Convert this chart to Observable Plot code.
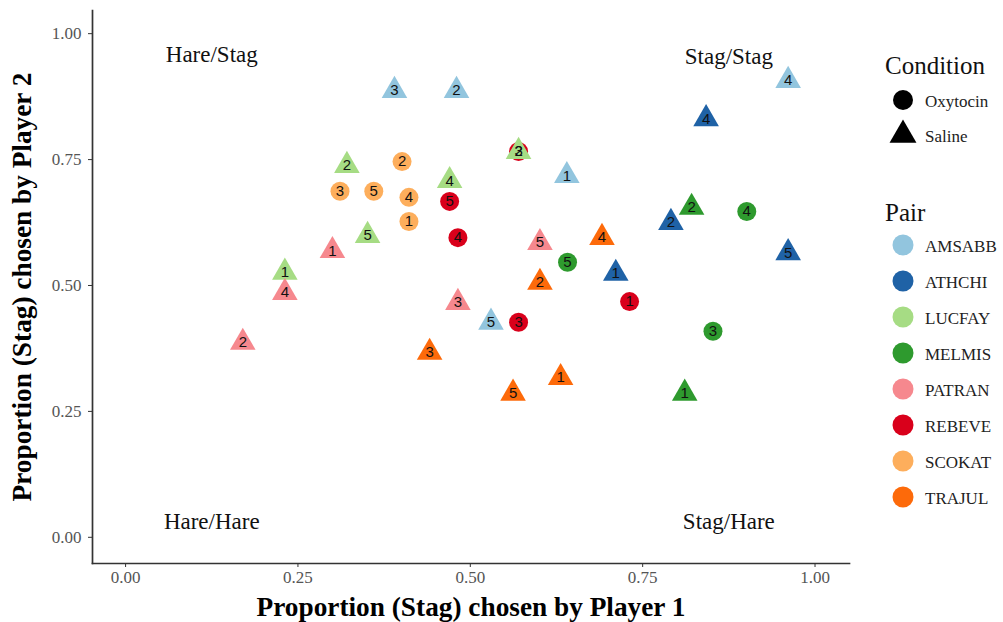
<!DOCTYPE html>
<html>
<head>
<meta charset="utf-8">
<script src="https://cdn.jsdelivr.net/npm/d3@7"></script>
<script src="https://cdn.jsdelivr.net/npm/@observablehq/plot@0.6"></script>
<style>
  body { margin: 0; background: #fff; }
  #wrap { position: relative; width: 1003px; height: 622px; }
  #legend { position: absolute; left: 0; top: 0; }
</style>
</head>
<body>
<div id="wrap"></div>
<script>
// ---- data ----
const pairNames = ["AMSABB", "ATHCHI", "LUCFAY", "MELMIS", "PATRAN", "REBEVE", "SCOKAT", "TRAJUL"];
const pairColors = ["#92c5de", "#1f62a6", "#a6dc84", "#2e9a2e", "#f6888e", "#d9001b", "#fdae5c", "#fd6a0a"];
const conditions = ["Oxytocin", "Saline"];
const conditionSymbols = ["circle", "triangle"];

const pointPair = [
  "AMSABB","AMSABB","AMSABB","AMSABB","AMSABB",
  "ATHCHI","ATHCHI","ATHCHI","ATHCHI",
  "LUCFAY","LUCFAY","LUCFAY","LUCFAY","LUCFAY",
  "MELMIS","MELMIS","MELMIS","MELMIS","MELMIS",
  "PATRAN","PATRAN","PATRAN","PATRAN","PATRAN",
  "REBEVE","REBEVE","REBEVE","REBEVE","REBEVE",
  "SCOKAT","SCOKAT","SCOKAT","SCOKAT","SCOKAT",
  "TRAJUL","TRAJUL","TRAJUL","TRAJUL","TRAJUL"
];
const pointSession = [
  1,2,3,4,5,
  1,2,4,5,
  1,2,3,4,5,
  1,2,3,4,5,
  1,2,3,4,5,
  1,2,3,4,5,
  1,2,3,4,5,
  1,2,3,4,5
];
const pointCondition = [
  "Saline","Saline","Saline","Saline","Saline",
  "Saline","Saline","Saline","Saline",
  "Saline","Saline","Saline","Saline","Saline",
  "Saline","Saline","Oxytocin","Oxytocin","Oxytocin",
  "Saline","Saline","Saline","Saline","Saline",
  "Oxytocin","Oxytocin","Oxytocin","Oxytocin","Oxytocin",
  "Oxytocin","Oxytocin","Oxytocin","Oxytocin","Oxytocin",
  "Saline","Saline","Saline","Saline","Saline"
];
const player1 = [
  0.640,0.480,0.390,0.961,0.530,
  0.711,0.791,0.842,0.961,
  0.231,0.321,0.570,0.470,0.351,
  0.811,0.821,0.852,0.901,0.641,
  0.300,0.170,0.482,0.231,0.601,
  0.731,0.570,0.570,0.482,0.470,
  0.411,0.401,0.311,0.411,0.360,
  0.631,0.601,0.441,0.691,0.562
];
const player2 = [
  0.718,0.887,0.887,0.907,0.427,
  0.524,0.625,0.831,0.565,
  0.526,0.738,0.766,0.708,0.599,
  0.286,0.655,0.409,0.647,0.546,
  0.569,0.387,0.466,0.486,0.585,
  0.468,0.766,0.427,0.595,0.667,
  0.627,0.746,0.687,0.675,0.687,
  0.317,0.506,0.367,0.595,0.286
];

const xTicks = [0, 0.25, 0.5, 0.75, 1];
const yTicks = [0, 0.25, 0.5, 0.75, 1];

const quadLabel = ["Hare/Stag", "Stag/Stag", "Hare/Hare", "Stag/Hare"];
const quadX = [0.125, 0.875, 0.125, 0.875];
const quadY = [0.958, 0.955, 0.032, 0.032];

const xTitle = "Proportion (Stag) chosen by Player 1";
const yTitle = "Proportion (Stag) chosen by Player 2";

// ---- build rows (oxytocin drawn first, saline on top) ----
const rows = pointPair.map((p, i) => ({
  pair: p, session: pointSession[i], condition: pointCondition[i],
  x: player1[i], y: player2[i]
}));
rows.sort((a, b) => conditions.indexOf(a.condition) - conditions.indexOf(b.condition));
const quads = quadLabel.map((t, i) => ({text: t, x: quadX[i], y: quadY[i]}));

const serif = "'Liberation Serif', 'Times New Roman', serif";
const sans = "'Liberation Sans', Arial, sans-serif";

const plot = Plot.plot({
  width: 1003,
  height: 622,
  marginLeft: 92,
  marginRight: 154,
  marginTop: 10,
  marginBottom: 59,
  style: {fontFamily: serif, background: "#fff"},
  x: {domain: [-0.048, 1.05]},
  y: {domain: [-0.052, 1.046]},
  color: {domain: pairNames, range: pairColors},
  symbol: {domain: conditions, range: conditionSymbols},
  marks: [
    Plot.frame({anchor: "left", stroke: "#333", strokeWidth: 1.7}),
    Plot.frame({anchor: "bottom", stroke: "#333", strokeWidth: 1.7}),
    Plot.axisX({ticks: xTicks, tickFormat: d3.format(".2f"), tickSize: 4, tickPadding: 3,
      fontSize: 17, fill: "#555", stroke: "#333", label: null}),
    Plot.axisY({ticks: yTicks, tickFormat: d3.format(".2f"), tickSize: 4, tickPadding: 7,
      fontSize: 17, fill: "#555", stroke: "#333", label: null}),
    Plot.text(quads, {x: "x", y: "y", text: "text", fontSize: 23, fill: "#111"}),
    Plot.dot(rows, {x: "x", y: "y", fill: "pair", symbol: "condition", r: 9.5, stroke: "none"}),
    Plot.text(rows, {x: "x", y: "y", text: "session", fontSize: 15, fontFamily: sans, fill: "#111"}),
    Plot.text([xTitle], {frameAnchor: "bottom", dy: 44, lineAnchor: "middle", textAnchor: "middle",
      fontSize: 27.3, fontWeight: "bold", fill: "#000"}),
    Plot.text([yTitle], {frameAnchor: "left", dx: -70, rotate: -90, lineAnchor: "middle", textAnchor: "middle",
      fontSize: 27.3, fontWeight: "bold", fill: "#000"})
  ]
});

const wrap = document.getElementById("wrap");
wrap.appendChild(plot);

// ---- legend (built with d3 from the plot's own scales) ----
const colorScale = plot.scale("color");
const symbolScale = plot.scale("symbol");

const svg = d3.select(wrap).append("svg")
  .attr("id", "legend").attr("width", 1003).attr("height", 622)
  .style("font-family", serif);

const lx = 885, keyX = 903, textX = 925;

svg.append("text").attr("x", lx).attr("y", 65).attr("dy", "0.35em")
  .attr("font-size", 25).attr("fill", "#111").text("Condition");
const condG = svg.selectAll("g.cond").data(symbolScale.domain).join("g")
  .attr("class", "cond")
  .attr("transform", (d, i) => `translate(0,${100 + i * 35})`);
condG.append("path")
  .attr("transform", `translate(${keyX},0)`)
  .attr("d", d => d3.symbol(symbolScale.apply(d), Math.PI * 10 * 10)())
  .attr("fill", "#000");
condG.append("text").attr("x", textX).attr("y", 1).attr("dy", "0.35em")
  .attr("font-size", 17).attr("fill", "#222").text(d => d);

svg.append("text").attr("x", lx).attr("y", 212).attr("dy", "0.35em")
  .attr("font-size", 25).attr("fill", "#111").text("Pair");
const pairG = svg.selectAll("g.pair").data(colorScale.domain).join("g")
  .attr("class", "pair")
  .attr("transform", (d, i) => `translate(0,${245 + i * 36})`);
pairG.append("circle").attr("cx", keyX).attr("cy", 0).attr("r", 10.5)
  .attr("fill", d => colorScale.apply(d));
pairG.append("text").attr("x", textX).attr("y", 1).attr("dy", "0.35em")
  .attr("font-size", 17).attr("fill", "#222").text(d => d);
</script>
</body>
</html>
